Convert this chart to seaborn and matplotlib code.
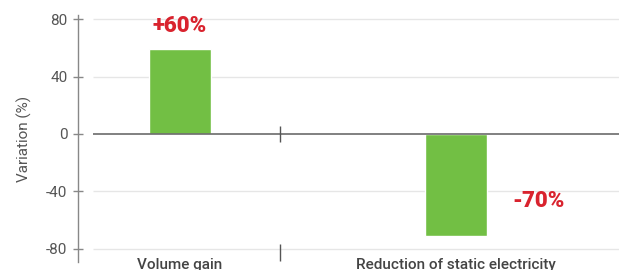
import matplotlib
matplotlib.use("Agg")
import matplotlib.pyplot as plt
import seaborn as sns
import pandas as pd

categories = ["Volume gain", "Reduction of static electricity"]
values = [59, -71]
labels = ["+60%", "-70%"]
y_ticks = [-80, -40, 0, 40, 80]

sns.set_style("white")
plt.rcParams['font.family'] = ['Roboto', 'DejaVu Sans']

df = pd.DataFrame({"category": categories, "value": values})

fig = plt.figure(figsize=(6.19, 2.70), dpi=100)
ax = fig.add_axes([78/619, 8/270, 1 - 78/619, (262-15)/270])

sns.barplot(data=df, x="category", y="value", color="#72bf44", width=0.225,
            saturation=1, ax=ax, zorder=3)

x0 = -0.3696
x1 = 1.5906
ax.set_xlim(x0, x1)
ax.set_ylim(-89.3, 83.0)

grid_start = (93 - 180) / 276
for t in y_ticks:
    if t == 0:
        continue
    ax.hlines(t, grid_start, x1, color="#e6e6e6", lw=1, zorder=1)
ax.hlines(0, grid_start, x1, color="#6b6b6b", lw=1.2, zorder=4)

# category separators
sep = (280 - 180) / 276
ax.vlines(sep, -5.5, 5.5, color="#555555", lw=1, zorder=4)
ax.vlines(sep, -76.5, -88.5, color="#555555", lw=1, zorder=4)

ax.set_yticks(y_ticks)
ax.set_yticklabels([str(t) for t in y_ticks])
ax.tick_params(axis="y", left=True, direction="inout", length=7, width=1,
               color="#888888", labelsize=11, labelcolor="#555555", pad=4)
ax.tick_params(axis="x", bottom=False, length=0, labelsize=11,
               labelcolor="#444444", pad=-3)
for lab in ax.get_xticklabels():
    lab.set_fontweight("medium")

for s in ["top", "right", "bottom"]:
    ax.spines[s].set_visible(False)
ax.spines["left"].set_color("#888888")
ax.spines["left"].set_linewidth(1)

ax.set_xlabel("")
ax.set_ylabel("Variation (%)", fontsize=11, color="#555555", labelpad=10)

red = "#d9232e"
ax.text(0, 75.5, labels[0], color=red, fontsize=16, fontweight="black",
        ha="center", va="center")
ax.text(1 + 0.3, -47, labels[1], color=red, fontsize=16, fontweight="black",
        ha="center", va="center")

fig.savefig("out.png", dpi=100)
